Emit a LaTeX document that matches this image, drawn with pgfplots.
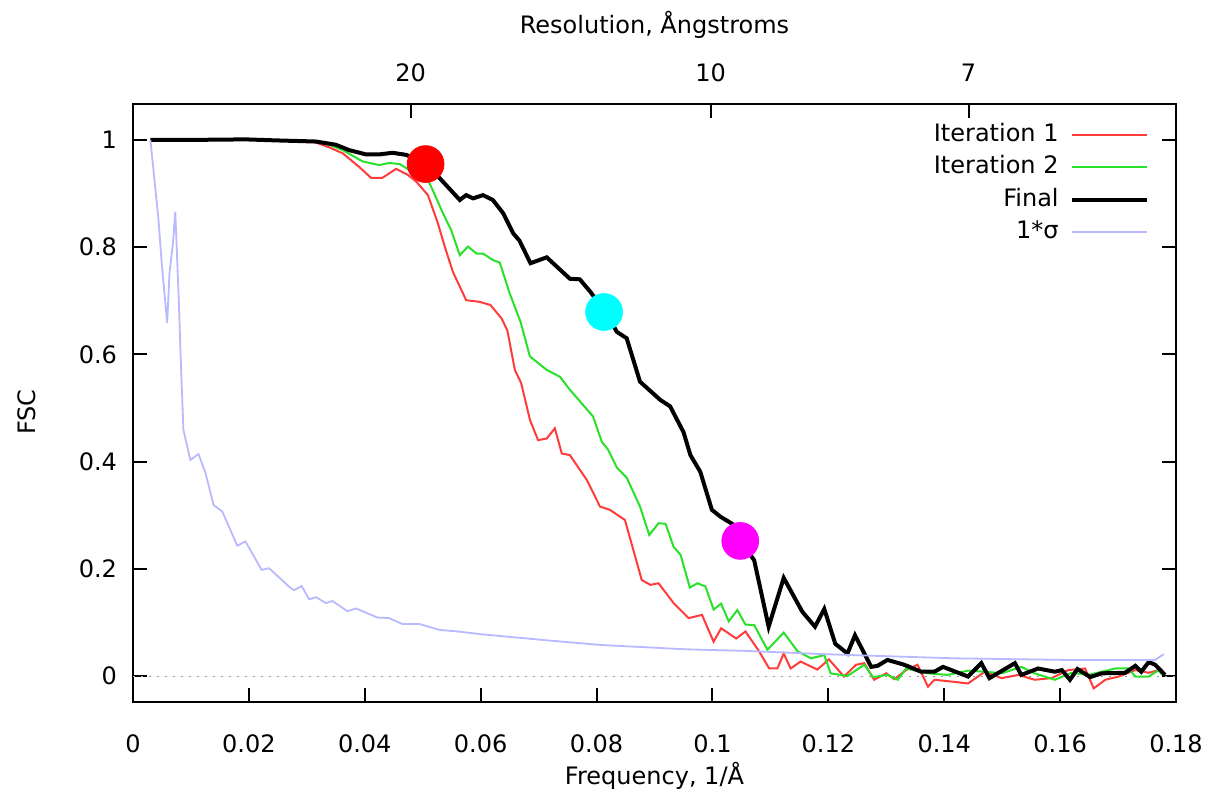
\documentclass[border=0pt]{standalone}
\usepackage{fontspec}
\setmainfont{DejaVu Sans}
\usepackage{pgfplots}
\pgfplotsset{compat=1.18}
\usetikzlibrary{calc}
\definecolor{itone}{RGB}{255,60,60}
\definecolor{ittwo}{RGB}{40,225,40}
\definecolor{sigblue}{RGB}{185,185,255}
\definecolor{dotred}{RGB}{255,0,0}
\definecolor{dotcyan}{RGB}{0,255,255}
\definecolor{dotmag}{RGB}{255,0,255}
\pgfplotsset{
  fsc/.style={
    scale only axis, width=521.5pt, height=299pt,
    xmin=0, xmax=0.18, ymin=-0.0485, ymax=1.067,
    font=\fontsize{12}{14}\selectfont,
    /pgf/number format/assume math mode=true,
    tick align=inside, major tick length=7pt,
    axis line style={line width=1pt},
    tick style={line width=1pt, black},
  },
}
\begin{document}
\begin{tikzpicture}
\begin{axis}[fsc,
  xtick={0,0.02,0.04,0.06,0.08,0.1,0.12,0.14,0.16,0.18},
  scaled x ticks=false,
  xticklabel style={/pgf/number format/fixed, /pgf/number format/precision=2, yshift=-13pt},
  ytick={0,0.2,0.4,0.6,0.8,1},
  yticklabel style={xshift=-4.5pt},
  xtick pos=bottom, ytick pos=both,
  xlabel={Frequency, 1/Å},
  xlabel style={at={(axis description cs:0.5,0)}, anchor=center, yshift=-37pt},
  ylabel={FSC},
  ylabel style={at={(axis description cs:0,0.485)}, anchor=center, yshift=53pt},
  legend cell align=right, legend plot pos=right,
  legend image code/.code={\draw[#1] (0pt,0pt) -- (37.5pt,0pt);},
  legend style={draw=none, fill=none, inner sep=0pt, at={(1,1)}, anchor=north east,
    xshift=-13.5pt, yshift=-7.5pt, column sep=3.5pt, row sep=0.7pt,
    nodes={text height=9pt, text depth=2.5pt, inner sep=2pt}},
]
\coordinate (bl) at (rel axis cs:0,0);
\coordinate (tr) at (rel axis cs:1,1);
\addplot[gray!80, dash pattern=on 1pt off 3pt, forget plot] coordinates {(0,0) (0.18,0)};

\addplot[itone, line width=1pt] coordinates {
(0.003,1.0)(0.010,1.0)(0.020,1.0)(0.028,0.999)(0.0316,0.995)(0.0339,0.986)
(0.0362,0.975)(0.0390,0.950)(0.0411,0.929)(0.0430,0.929)(0.0454,0.946)
(0.0474,0.935)(0.0489,0.922)(0.0509,0.897)(0.0526,0.845)(0.0538,0.801)
(0.0552,0.754)(0.0575,0.701)(0.0598,0.698)(0.0617,0.692)(0.0636,0.667)
(0.0646,0.645)(0.0659,0.571)(0.0670,0.546)(0.0685,0.478)(0.0699,0.440)
(0.0714,0.443)(0.0728,0.462)(0.0740,0.415)(0.0754,0.412)(0.0783,0.366)
(0.0806,0.316)(0.0823,0.310)(0.0849,0.291)(0.0878,0.179)(0.0893,0.170)
(0.0907,0.173)(0.0933,0.136)(0.0959,0.108)(0.0982,0.114)(0.1002,0.064)
(0.1015,0.089)(0.1041,0.070)(0.1057,0.083)(0.1080,0.047)(0.1098,0.014)
(0.1112,0.014)(0.1123,0.042)(0.1135,0.014)(0.1152,0.027)(0.1181,0.012)
(0.1201,0.031)(0.1227,-0.001)(0.1248,0.021)(0.1262,0.024)(0.1279,-0.007)
(0.1300,0.005)(0.1314,-0.006)(0.1334,0.011)(0.1354,0.021)(0.1372,-0.020)
(0.1383,-0.007)(0.1418,-0.011)(0.1441,-0.014)(0.1470,0.008)(0.1499,-0.004)
(0.1528,0.002)(0.1556,-0.007)(0.1585,-0.004)(0.1614,0.011)(0.1643,0.014)
(0.1658,-0.023)(0.1678,-0.007)(0.1701,-0.001)(0.1730,0.011)(0.1753,0.006)
(0.1770,0.011)(0.1781,0.005)};
\addlegendentry{Iteration 1}

\addplot[ittwo, line width=1pt] coordinates {
(0.003,1.0)(0.010,1.0)(0.020,1.0)(0.028,0.999)(0.0316,0.997)(0.0339,0.991)
(0.0362,0.981)(0.0396,0.960)(0.0425,0.953)(0.0442,0.957)(0.0460,0.955)
(0.0477,0.944)(0.0506,0.932)(0.0517,0.907)(0.0535,0.863)(0.0549,0.832)
(0.0564,0.785)(0.0578,0.801)(0.0593,0.788)(0.0604,0.788)(0.0621,0.776)
(0.0633,0.771)(0.0650,0.714)(0.0669,0.660)(0.0685,0.596)(0.0714,0.571)
(0.0737,0.558)(0.0754,0.534)(0.0794,0.484)(0.0809,0.437)(0.0820,0.422)
(0.0835,0.389)(0.0852,0.370)(0.0875,0.316)(0.0891,0.263)(0.0907,0.285)
(0.0919,0.284)(0.0933,0.241)(0.0945,0.226)(0.0961,0.165)(0.0974,0.173)
(0.0988,0.167)(0.1002,0.124)(0.1015,0.135)(0.1028,0.102)(0.1043,0.123)
(0.1057,0.096)(0.1072,0.095)(0.1095,0.049)(0.1123,0.081)(0.1147,0.046)
(0.1170,0.033)(0.1193,0.039)(0.1204,0.005)(0.1233,0.000)(0.1262,0.021)
(0.1277,-0.002)(0.1302,0.002)(0.1320,-0.007)(0.1334,0.014)(0.1372,0.005)
(0.1406,0.002)(0.1441,0.010)(0.1470,0.008)(0.1499,0.005)(0.1533,0.017)
(0.1556,0.005)(0.1591,-0.007)(0.1620,0.006)(0.1649,0.002)(0.1695,0.014)
(0.1718,0.014)(0.1730,-0.001)(0.1753,-0.001)(0.1770,0.011)(0.1776,0.002)};
\addlegendentry{Iteration 2}

\addplot[black, line width=2pt] coordinates {
(0.003,1.0)(0.010,1.0)(0.0194,1.001)(0.025,0.999)(0.0316,0.997)(0.0350,0.991)
(0.0373,0.981)(0.0402,0.973)(0.0425,0.973)(0.0448,0.976)(0.0472,0.972)
(0.0505,0.955)(0.0529,0.929)(0.0564,0.888)(0.0575,0.897)(0.0587,0.891)
(0.0604,0.897)(0.0621,0.888)(0.0639,0.863)(0.0656,0.826)(0.0667,0.812)
(0.0686,0.770)(0.0714,0.781)(0.0754,0.741)(0.0771,0.740)(0.0789,0.717)
(0.0815,0.680)(0.0835,0.642)(0.0852,0.630)(0.0875,0.549)(0.0910,0.515)
(0.0927,0.503)(0.0950,0.455)(0.0962,0.412)(0.0979,0.381)(0.0999,0.310)
(0.1014,0.297)(0.1037,0.282)(0.1048,0.252)(0.1072,0.216)(0.1097,0.092)
(0.1123,0.183)(0.1155,0.120)(0.1177,0.092)(0.1193,0.125)(0.1212,0.060)
(0.1233,0.042)(0.1246,0.076)(0.1274,0.017)(0.1285,0.019)(0.1302,0.030)
(0.1331,0.021)(0.1360,0.008)(0.1383,0.008)(0.1398,0.017)(0.1441,-0.001)
(0.1464,0.024)(0.1478,-0.004)(0.1522,0.024)(0.1533,0.002)(0.1562,0.014)
(0.1591,0.008)(0.1603,0.011)(0.1617,-0.007)(0.1630,0.013)(0.1652,-0.002)
(0.1672,0.005)(0.1712,0.006)(0.1730,0.019)(0.1740,0.008)(0.1753,0.026)
(0.1764,0.021)(0.1781,0.002)};
\addlegendentry{Final}

\addplot[sigblue, line width=0.9pt] coordinates {
(0.003,1.0)(0.0044,0.851)(0.0050,0.764)(0.0059,0.659)(0.0063,0.752)
(0.0069,0.808)(0.0073,0.866)(0.0079,0.701)(0.0082,0.603)(0.0087,0.459)
(0.0099,0.403)(0.0113,0.414)(0.0125,0.379)(0.0139,0.319)(0.0154,0.307)
(0.0180,0.243)(0.0194,0.251)(0.0222,0.198)(0.0235,0.201)(0.0269,0.167)
(0.0278,0.160)(0.0291,0.168)(0.0304,0.143)(0.0316,0.147)(0.0333,0.136)
(0.0344,0.140)(0.0370,0.121)(0.0385,0.126)(0.0422,0.109)(0.0442,0.108)
(0.0465,0.097)(0.0494,0.097)(0.0529,0.086)(0.0561,0.083)(0.0600,0.078)
(0.0720,0.066)(0.0806,0.058)(0.0950,0.050)(0.0980,0.049)(0.1054,0.047)
(0.1187,0.041)(0.1270,0.038)(0.1418,0.033)(0.1610,0.030)(0.1764,0.030)
(0.1779,0.041)};
\addlegendentry{1*σ}

\addplot[only marks, mark=*, mark size=9.2pt, color=dotred, forget plot] coordinates {(0.0505,0.955)};
\addplot[only marks, mark=*, mark size=9.2pt, color=dotcyan, forget plot] coordinates {(0.0813,0.679)};
\addplot[only marks, mark=*, mark size=9.2pt, color=dotmag, forget plot] coordinates {(0.1048,0.252)};
\end{axis}

\begin{axis}[fsc,
  axis x line*=top, axis y line=none, axis line style={-},
  xtick={0.0479,0.0997,0.1442}, xticklabels={20,10,7},
  xticklabel style={yshift=7.6pt},
  xlabel={Resolution, Ångstroms},
  xlabel style={at={(axis description cs:0.5,1)}, anchor=center, yshift=39.5pt},
]
\end{axis}
\pgfresetboundingbox
\path ($(bl)+(-66.5pt,-48.5pt)$) rectangle ($(tr)+(17.5pt,52pt)$);
\end{tikzpicture}
\end{document}
